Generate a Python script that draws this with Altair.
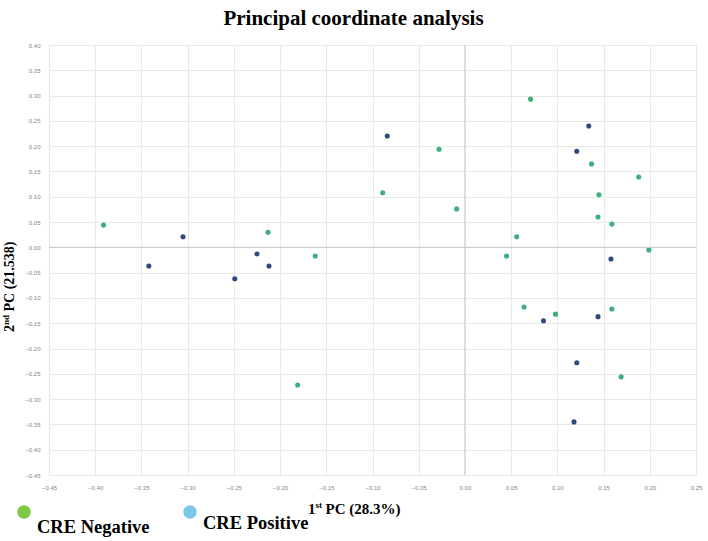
import altair as alt
import pandas as pd

# PCoA coordinates (PC1, PC2) per isolate group
neg_x = [-0.391, -0.213, -0.162, 0.071, -0.028, 0.137, 0.188, -0.089, 0.145, -0.009,
         0.144, 0.159, 0.056, 0.045, 0.199, 0.064, 0.098, 0.159, 0.169, -0.181]
neg_y = [0.044, 0.030, -0.017, 0.293, 0.194, 0.165, 0.139, 0.108, 0.104, 0.076,
         0.060, 0.046, 0.021, -0.017, -0.005, -0.118, -0.132, -0.122, -0.256, -0.272]
pos_x = [-0.305, -0.342, -0.225, -0.212, -0.249, -0.084, 0.134, 0.121, 0.158, 0.085,
         0.144, 0.121, 0.118]
pos_y = [0.021, -0.037, -0.013, -0.037, -0.062, 0.220, 0.240, 0.190, -0.023, -0.145,
         -0.137, -0.228, -0.345]

groups = ["CRE Negative", "CRE Positive"]
point_colors = ["#3fae7a", "#2d4b7d"]
legend_colors = ["#7dc943", "#7cc6ea"]

x_ticks = [-0.45, -0.40, -0.35, -0.30, -0.25, -0.20, -0.15, -0.10, -0.05,
           0.00, 0.05, 0.10, 0.15, 0.20, 0.25]
y_ticks = [0.40, 0.35, 0.30, 0.25, 0.20, 0.15, 0.10, 0.05, 0.00,
           -0.05, -0.10, -0.15, -0.20, -0.25, -0.30, -0.35, -0.40, -0.45]

df = pd.DataFrame({
    "pc1": neg_x + pos_x,
    "pc2": neg_y + pos_y,
    "group": [groups[0]] * len(neg_x) + [groups[1]] * len(pos_x),
})

W, H = 647, 430
SERIF = "Liberation Serif"

x_scale = alt.Scale(domain=[-0.45, 0.25], nice=False, zero=False)
y_scale = alt.Scale(domain=[-0.45, 0.40], nice=False, zero=False)

axis_style = dict(format=".2f", title=None, grid=True, ticks=False, domain=False,
                  labelFontSize=6, labelColor="#858585", labelPadding=9,
                  gridColor="#e9e9e9", labelFont="Liberation Sans",
                  labelOverlap=False, labelFlush=False)
x_axis = alt.Axis(values=x_ticks, **axis_style)
y_axis = alt.Axis(values=y_ticks, **axis_style)

points = alt.Chart(df).mark_circle(size=26, opacity=1).encode(
    x=alt.X("pc1:Q", scale=x_scale, axis=x_axis),
    y=alt.Y("pc2:Q", scale=y_scale, axis=y_axis),
    color=alt.Color("group:N", scale=alt.Scale(domain=groups, range=point_colors), legend=None),
)

# darker reference lines through the origin
zero_df = pd.DataFrame({"v": [0.0]})
zero_x = alt.Chart(zero_df).mark_rule(color="#cdcdcd", strokeWidth=1.2).encode(
    x=alt.X("v:Q", scale=x_scale, axis=x_axis))
zero_y = alt.Chart(zero_df).mark_rule(color="#cdcdcd", strokeWidth=1.2).encode(
    y=alt.Y("v:Q", scale=y_scale, axis=y_axis))


def label(text, x, y, size, angle=0, align="left"):
    return alt.Chart(pd.DataFrame({"t": [text]})).mark_text(
        font=SERIF, fontWeight="bold", fontSize=size, color="#000000",
        align=align, baseline="alphabetic", angle=angle,
    ).encode(text="t:N", x=alt.value(x), y=alt.value(y))


def dot(color, x, y):
    return alt.Chart(pd.DataFrame({"c": [color]})).mark_circle(
        size=180, opacity=1, color=color
    ).encode(x=alt.value(x), y=alt.value(y))


texts = [
    label("Principal coordinate analysis", 304.5, -20, 21, align="center"),
    # y-axis title, read bottom to top
    label("2", -35, 287, 14, angle=270),
    label("nd", -40, 280, 9, angle=270),
    label("PC (21.538)", -35, 266.5, 14, angle=270),
    # x-axis title
    label("1", 259, 469, 15),
    label("st", 266.5, 463, 9),
    label("PC (28.3%)", 276.5, 469, 15),
    # legend
    dot(legend_colors[0], -25, 467),
    label(groups[0], -12, 488, 18.5),
    dot(legend_colors[1], 141, 467),
    label(groups[1], 154, 484, 18.5),
]

chart = alt.layer(points, zero_x, zero_y, *texts).properties(
    width=W, height=H,
    padding={"left": 49, "top": 45, "right": 12, "bottom": 66},
    autosize=alt.AutoSizeParams(type="none"),
).configure_view(stroke="#dedede", strokeWidth=1).configure(background="#ffffff")

chart.save("out.html", embed_options={"renderer": "svg", "actions": False})
